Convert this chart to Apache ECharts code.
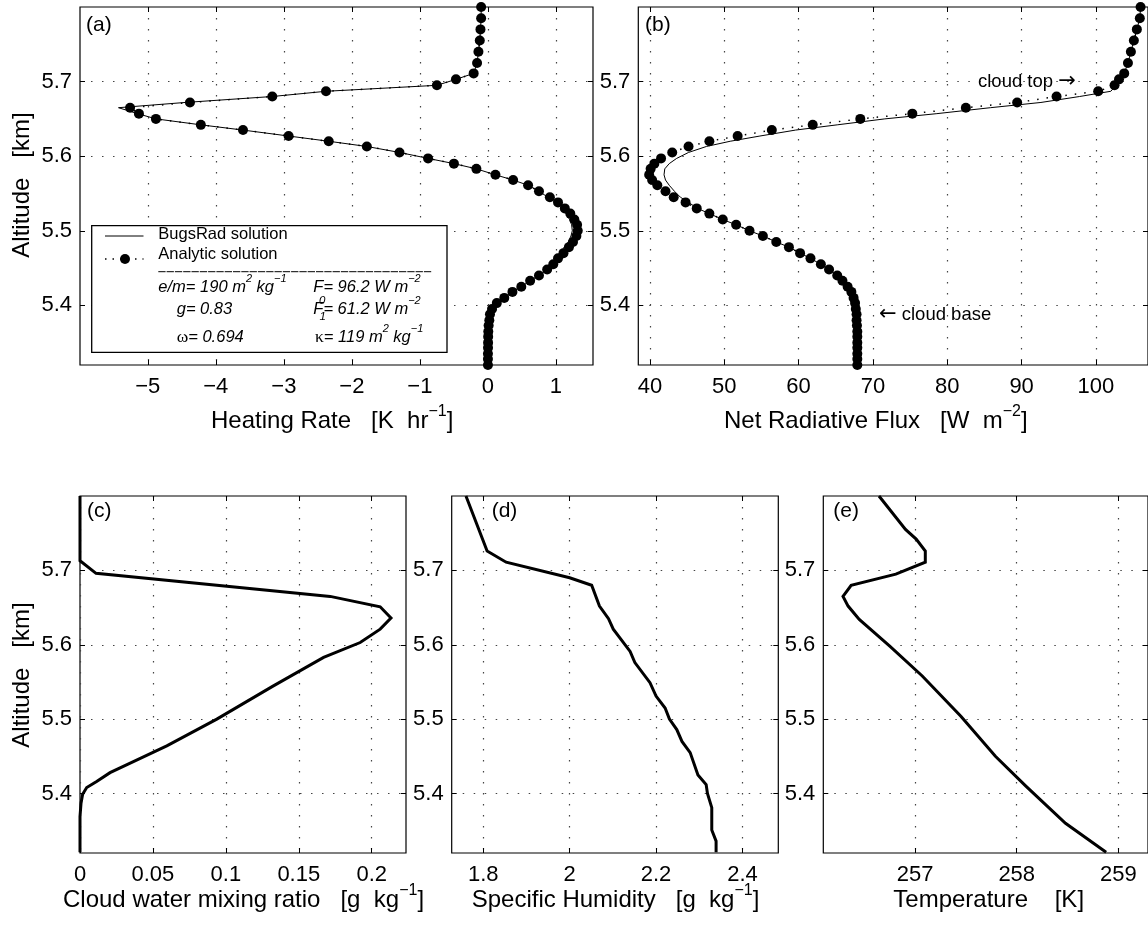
<!DOCTYPE html>
<html><head><meta charset="utf-8">
<script src="https://cdn.jsdelivr.net/npm/echarts@6/dist/echarts.min.js"></script>
<style>html,body{margin:0;padding:0;background:#fff}#c{width:1148px;height:927px}</style>
</head><body><div id="c"></div>
<script>
// ---------------- data ----------------
const altAB = [5.800,5.785,5.770,5.755,5.740,5.725,5.711,5.703,5.695,5.687,
  5.680,5.672,5.665,5.657,5.650,5.642,5.635,5.627,5.620,5.613,
  5.605,5.597,5.590,5.583,5.575,5.568,5.561,5.553,5.545,5.538,
  5.530,5.523,5.515,5.508,5.500,5.493,5.485,5.478,5.470,5.463,
  5.455,5.448,5.440,5.433,5.425,5.418,5.410,5.403,5.395,5.388,
  5.380,5.373,5.365,5.358,5.350,5.343,5.335,5.328,5.320];
const heatAnalytic = [-0.10,-0.10,-0.11,-0.12,-0.14,-0.16,-0.21,-0.47,-0.75,-2.38,
  -3.17,-4.38,-5.26,-5.13,-4.88,-4.22,-3.60,-2.93,-2.34,-1.78,
  -1.30,-0.88,-0.50,-0.17,0.11,0.37,0.59,0.75,0.91,1.03,
  1.13,1.21,1.27,1.31,1.32,1.30,1.25,1.19,1.11,1.03,
  0.96,0.87,0.75,0.62,0.49,0.36,0.24,0.13,0.06,0.03,
  0.02,0.01,0.005,0.003,0.002,0.001,0,0,0];
const heatBugsRad = [-0.10,-0.10,-0.11,-0.12,-0.14,-0.16,-0.21,-0.47,-0.75,-2.38,
  -3.17,-4.45,-5.43,-5.15,-4.88,-4.22,-3.60,-2.93,-2.34,-1.78,
  -1.30,-0.88,-0.50,-0.17,0.11,0.37,0.59,0.75,0.88,0.99,
  1.08,1.15,1.20,1.23,1.24,1.22,1.18,1.12,1.06,0.99,
  0.94,0.87,0.75,0.62,0.49,0.36,0.24,0.13,0.06,0.03,
  0.02,0.01,0.005,0.003,0.002,0.001,0,0,0];
const fluxAnalytic = [106.0,105.9,105.5,105.1,104.7,104.3,103.8,103.1,102.5,100.3,
  94.7,89.4,82.5,75.3,68.3,61.9,56.4,51.8,48.0,45.2,
  43.0,41.5,40.6,40.1,39.9,40.3,41.0,42.1,43.2,44.8,
  46.3,48.0,49.8,51.6,53.4,55.2,57.0,58.7,60.2,61.6,
  63.0,64.1,65.2,65.9,66.6,67.1,67.4,67.6,67.7,67.8,
  67.8,67.85,67.9,67.9,67.9,67.9,67.9,67.9,67.9];
const fluxBugsRad = [106.0,105.9,105.5,105.1,104.7,104.3,103.8,103.2,102.7,102.0,
  97.8,92.6,85.8,78.6,71.6,65.2,59.6,54.8,50.8,47.6,
  45.2,43.6,42.6,42.0,41.9,42.1,42.6,43.3,44.1,45.2,
  46.4,48.0,49.8,51.6,53.4,55.2,57.0,58.7,60.2,61.6,
  63.0,64.1,65.2,65.9,66.6,67.1,67.4,67.6,67.7,67.8,
  67.8,67.85,67.9,67.9,67.9,67.9,67.9,67.9,67.9];
const cwAlt = [5.800,5.713,5.696,5.665,5.651,5.636,5.621,5.603,5.583,5.544,5.500,5.464,5.443,5.428,5.416,5.408,5.399,5.387,5.369,5.321];
const cwVal = [0,0,0.011,0.1715,0.2058,0.2132,0.2058,0.1921,0.167,0.132,0.0938,0.0595,0.0366,0.0206,0.0114,0.0046,0.0018,0.0007,0,0];
const qAlt = [5.800,5.726,5.711,5.690,5.680,5.652,5.635,5.621,5.591,5.576,5.549,5.531,5.515,5.500,5.486,5.470,5.455,5.425,5.412,5.400,5.381,5.351,5.336,5.321];
const qVal = [1.760,1.809,1.853,2.000,2.051,2.069,2.090,2.101,2.140,2.151,2.186,2.200,2.221,2.231,2.248,2.260,2.279,2.297,2.316,2.319,2.329,2.329,2.339,2.339];
const tAlt = [5.800,5.755,5.742,5.726,5.711,5.695,5.680,5.665,5.652,5.634,5.598,5.558,5.504,5.450,5.410,5.360,5.321];
const tVal = [256.644,256.905,257.01,257.10,257.10,256.81,256.37,256.29,256.34,256.45,256.75,257.07,257.45,257.79,258.09,258.48,258.88];

const altTicks = [5.4,5.5,5.6,5.7];
const heatTicks = [-5,-4,-3,-2,-1,0,1];
const fluxTicks = [40,50,60,70,80,90,100];
const cwTicks = [0,0.05,0.1,0.15,0.2];
const qTicks = [1.8,2,2.2,2.4];
const tTicks = [257,258,259];

// ---------------- layout ----------------
const FONT = '"Liberation Sans", Arial, Helvetica, sans-serif';
const SERIF = '"Liberation Serif", "DejaVu Serif", serif';
const panels = [
  {left:80,    top:7,   width:513,   height:358, xmin:-5.996, xmax:1.544, xt:heatTicks},
  {left:638.3, top:7,   width:513,   height:358, xmin:38.44,  xmax:107.0, xt:fluxTicks},
  {left:80,    top:496, width:326,   height:357, xmin:0,      xmax:0.2235, xt:cwTicks},
  {left:451.7, top:496, width:326.6, height:357, xmin:1.727,  xmax:2.483, xt:qTicks},
  {left:823.3, top:496, width:326.6, height:357, xmin:256.096,xmax:259.292, xt:tTicks}
];
const YMIN = 5.32, YMAX = 5.80;
const fmt = v => (v < 0 ? '\u2212' + Math.abs(v) : String(v));
const tickStyle = {color:'#000', width:1};
const gridLine = {color:'#444', width:1.2, type:[1.5, 9.5]};
const noLine = {show:false, onZero:false};

const xAxis = [], yAxis = [], grid = [];
panels.forEach((p, i) => {
  grid.push({left:p.left, top:p.top, width:p.width, height:p.height, show:true,
    borderColor:'#000', borderWidth:1.2, backgroundColor:'rgba(0,0,0,0)'});
  xAxis.push({type:'value', gridIndex:i, position:'bottom', min:p.xmin, max:p.xmax,
    axisLine:noLine,
    axisTick:{show:true, inside:true, length:5, customValues:p.xt, lineStyle:tickStyle},
    axisLabel:{show:true, customValues:p.xt, formatter:fmt, margin:11, color:'#000', fontSize:22, fontFamily:FONT},
    splitLine:{show:true, lineStyle:gridLine}});
  xAxis.push({type:'value', gridIndex:i, position:'top', min:p.xmin, max:p.xmax,
    axisLine:noLine,
    axisTick:{show:true, inside:true, length:5, customValues:p.xt, lineStyle:tickStyle},
    axisLabel:{show:false}, splitLine:{show:false}});
  yAxis.push({type:'value', gridIndex:i, position:'left', min:YMIN, max:YMAX,
    axisLine:noLine,
    axisTick:{show:true, inside:true, length:5, customValues:altTicks, lineStyle:tickStyle},
    axisLabel:{show:true, customValues:altTicks, formatter:fmt, margin:8, color:'#000', fontSize:22, fontFamily:FONT},
    splitLine:{show:true, lineStyle:gridLine}});
  yAxis.push({type:'value', gridIndex:i, position:'right', min:YMIN, max:YMAX,
    axisLine:noLine,
    axisTick:{show:true, inside:true, length:5, customValues:altTicks, lineStyle:tickStyle},
    axisLabel:{show:false}, splitLine:{show:false}});
});

const pairs = (xs, ys) => xs.map((v, k) => [v, ys[k]]);
const thinLine = (i, data) => ({type:'line', xAxisIndex:2*i, yAxisIndex:2*i, data, showSymbol:false,
  symbol:'none', clip:false, lineStyle:{color:'#000', width:1}, z:3});
const dotLine = (i, data) => ({type:'line', xAxisIndex:2*i, yAxisIndex:2*i, data, symbol:'circle',
  symbolSize:10, showSymbol:true, clip:false, itemStyle:{color:'#000'},
  lineStyle:{color:'#000', width:1.5, type:[1.5, 8]}, z:4});
const thickLine = (i, data) => ({type:'line', xAxisIndex:2*i, yAxisIndex:2*i, data, showSymbol:false,
  symbol:'none', clip:false, lineStyle:{color:'#000', width:3, join:'miter'}, z:3});

const series = [
  thinLine(0, pairs(heatBugsRad, altAB)),
  dotLine(0, pairs(heatAnalytic, altAB)),
  thinLine(1, pairs(fluxBugsRad, altAB)),
  dotLine(1, pairs(fluxAnalytic, altAB)),
  thickLine(2, pairs(cwVal, cwAlt)),
  thickLine(3, pairs(qVal, qAlt)),
  thickLine(4, pairs(tVal, tAlt))
];

// ---------------- text / legend graphics ----------------
const titleRich = {
  n:{fontSize:24, fontFamily:FONT, fill:'#000', color:'#000'},
  s:{fontSize:16, fontFamily:FONT, fill:'#000', color:'#000', padding:[0,0,19,0]}
};
const legRich = {
  i:{fontSize:16.5, fontFamily:FONT, fontStyle:'italic', color:'#000', fill:'#000'},
  s:{fontSize:11, fontFamily:FONT, fontStyle:'italic', color:'#000', fill:'#000', padding:[0,0,17,0]},
  g:{fontSize:17.5, fontFamily:SERIF, color:'#000', fill:'#000'}
};
const annRich = {
  t:{fontSize:18.5, fontFamily:FONT, color:'#000', fill:'#000'},
  a:{fontSize:21, fontFamily:'"DejaVu Sans", sans-serif', color:'#000', fill:'#000'}
};
function txt(x, y, text, o) {
  o = o || {};
  const st = {text, x:0, y:0, fill:'#000', fontSize:o.fontSize||22, fontFamily:o.fontFamily||FONT,
    fontStyle:o.fontStyle||'normal',
    textAlign:o.align||'left', align:o.align||'left',
    textVerticalAlign:'middle', verticalAlign:'middle'};
  if (o.rich) st.rich = o.rich;
  return {type:'text', x, y, rotation:o.rotation||0, z:100, style:st, silent:true};
}
const graphic = [
  // panel labels
  txt(86, 25, '(a)', {fontSize:21}),
  txt(645, 25, '(b)', {fontSize:21}),
  txt(87, 511, '(c)', {fontSize:21}),
  txt(491.7, 511, '(d)', {fontSize:21}),
  txt(833.3, 511, '(e)', {fontSize:21}),
  // axis titles
  txt(22, 185, '{n|Altitude   [km]}', {rich:titleRich, rotation:Math.PI/2, align:'center'}),
  txt(22, 675, '{n|Altitude   [km]}', {rich:titleRich, rotation:Math.PI/2, align:'center'}),
  txt(211, 421, '{n|Heating Rate   [K  hr}{s|\u22121}{n|]}', {rich:titleRich}),
  txt(724, 421, '{n|Net Radiative Flux   [W  m}{s|\u22122}{n|]}', {rich:titleRich}),
  txt(63, 900, '{n|Cloud water mixing ratio   [g  kg}{s|\u22121}{n|]}', {rich:titleRich}),
  txt(471.7, 900, '{n|Specific Humidity   [g  kg}{s|\u22121}{n|]}', {rich:titleRich}),
  txt(893.3, 900, '{n|Temperature    [K]}', {rich:titleRich}),
  // annotations in (b)
  txt(978, 82, '{t|cloud top }{a|\u2192}', {rich:annRich}),
  txt(879, 315, '{a|\u2190}{t| cloud base}', {rich:annRich}),
  // legend box
  {type:'rect', z:90, silent:true, shape:{x:91.7, y:225.7, width:355.3, height:126.6},
    style:{fill:'#fff', stroke:'#000', lineWidth:1.3}},
  {type:'line', z:100, silent:true, shape:{x1:105, y1:236, x2:143.5, y2:236}, style:{stroke:'#000', lineWidth:1}},
  {type:'line', z:100, silent:true, shape:{x1:105, y1:259, x2:143.5, y2:259}, style:{stroke:'#000', lineWidth:1.5, lineDash:[1.5, 6]}},
  {type:'circle', z:100, silent:true, shape:{cx:125, cy:259, r:5}, style:{fill:'#000'}},
  txt(158.3, 234, 'BugsRad solution', {fontSize:16.5}),
  txt(158.3, 254, 'Analytic solution', {fontSize:16.5}),
  {type:'line', z:100, silent:true, shape:{x1:158.3, y1:271.7, x2:432, y2:271.7}, style:{stroke:'#000', lineWidth:1, lineDash:[7.3, 1]}},
  txt(158.3, 287, '{i|e/m= 190 m}{s|2}{i| kg}{s|\u22121}', {rich:legRich}),
  txt(313.3, 287, '{i|F= 96.2 W m}{s|\u22122}', {rich:legRich}),
  txt(319, 300.5, '0', {fontSize:11.5, fontStyle:'italic'}),
  txt(176.7, 309, '{i|g= 0.83}', {rich:legRich}),
  txt(313.3, 309, '{i|F= 61.2 W m}{s|\u22122}', {rich:legRich}),
  txt(319.5, 317, '1', {fontSize:11.5, fontStyle:'italic'}),
  txt(176.7, 337, '{g|\u03c9}{i|= 0.694}', {rich:legRich}),
  txt(315, 337, '{g|\u03ba}{i|= 119 m}{s|2}{i| kg}{s|\u22121}', {rich:legRich})
];

const chart = echarts.init(document.getElementById('c'), null, {renderer:'canvas', width:1148, height:927});
chart.setOption({
  animation:false,
  backgroundColor:'#fff',
  textStyle:{fontFamily:FONT},
  grid, xAxis, yAxis, series, graphic
});
</script>
</body></html>
